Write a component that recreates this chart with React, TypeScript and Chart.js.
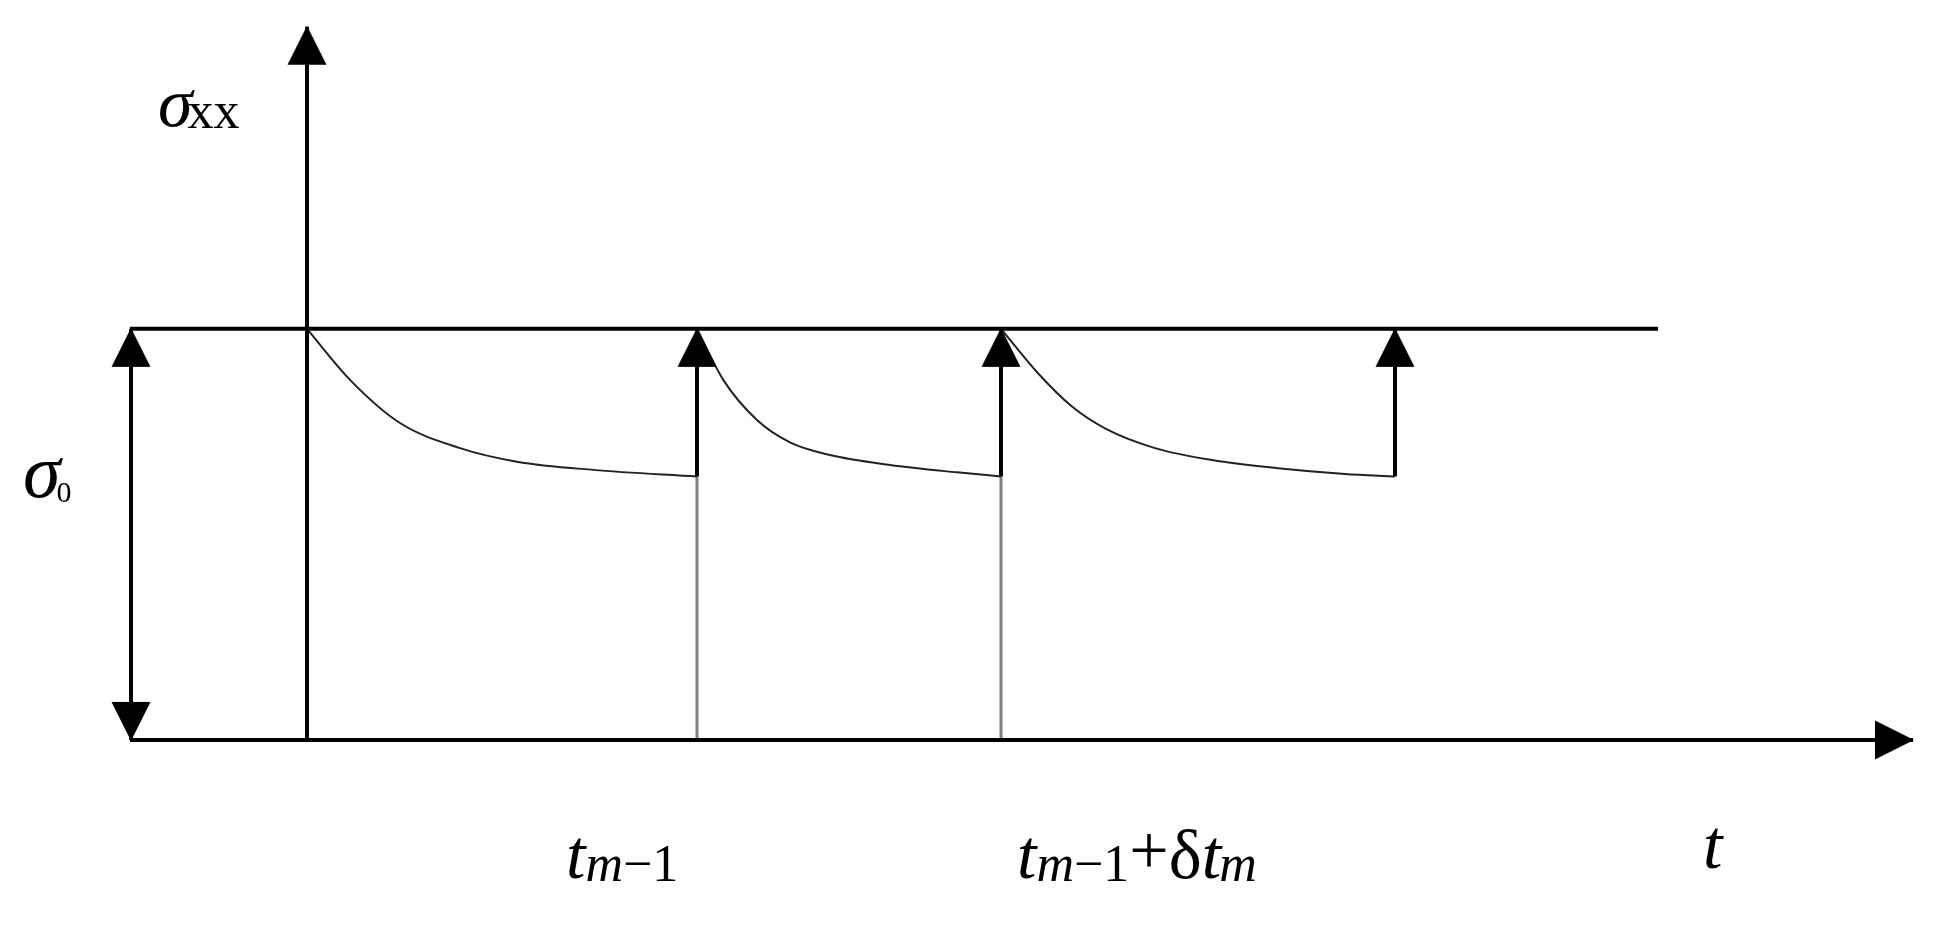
import React, { useEffect, useRef } from 'react';
import { Chart, registerables } from 'chart.js';

Chart.register(...registerables);

// ---- data (t in arbitrary time units, stress in units of sigma0) ----
const loadTimes = [0, 3.9, 6.94, 10.88];
const sigma0 = 1;
const relaxedLevel = 0.641;

const curve1T = [0, 0.43, 0.93, 1.53, 2.1, 2.86, 3.9];
const curve1S = [1.0, 0.876, 0.771, 0.71, 0.677, 0.657, 0.641];
const curve2T = [3.9, 4.163, 4.497, 4.83, 5.23, 5.83, 6.5, 6.94];
const curve2S = [1.0, 0.876, 0.779, 0.724, 0.693, 0.669, 0.651, 0.641];
const curve3T = [6.94, 7.31, 7.65, 7.98, 8.48, 9.05, 9.71, 10.38, 10.88];
const curve3S = [1.0, 0.892, 0.811, 0.758, 0.71, 0.681, 0.661, 0.647, 0.641];

const axisLeft = -1.77;
const tAxisEnd = 16.06;
const sigmaLineEnd = 13.51;
const sigmaAxisTop = 1.735;
const sigma0ArrowT = -1.76;

const xRange = [-3.07, 16.37];
const yRange = [-0.455, 1.8];

// ---- text labels ----
const SERIF = '"Liberation Serif", "DejaVu Serif", serif';
const labelSpecs = [
  { x: -1.49, y: 1.494, parts: [
    { text: 'σ', font: `italic 70px ${SERIF}` },
    { text: 'xx', font: `52px ${SERIF}`, dy: 2, dx: -5 },
  ] },
  { x: -2.84, y: 0.591, parts: [
    { text: 'σ', font: `italic 76px ${SERIF}` },
    { text: '0', font: `30px ${SERIF}`, dy: 5, dx: -4 },
  ] },
  { x: 2.59, y: -0.336, parts: [
    { text: 't', font: `italic 70px ${SERIF}` },
    { text: 'm', font: `italic 52px ${SERIF}`, dy: 3 },
    { text: '−1', font: `52px ${SERIF}`, dy: 3 },
  ] },
  { x: 7.1, y: -0.336, parts: [
    { text: 't', font: `italic 70px ${SERIF}` },
    { text: 'm', font: `italic 52px ${SERIF}`, dy: 3 },
    { text: '−1', font: `52px ${SERIF}`, dy: 3 },
    { text: '+', font: `70px ${SERIF}`, dy: -4 },
    { text: 'δ', font: `70px ${SERIF}` },
    { text: 't', font: `italic 70px ${SERIF}` },
    { text: 'm', font: `italic 52px ${SERIF}`, dy: 3, dx: -2 },
  ] },
  { x: 13.96, y: -0.311, parts: [
    { text: 't', font: `italic 70px ${SERIF}` },
  ] },
];

const richLabels = {
  id: 'richLabels',
  afterDatasetsDraw(chart: any) {
    const { ctx } = chart;
    const xs = chart.scales.x;
    const ys = chart.scales.y;
    ctx.save();
    ctx.fillStyle = '#000';
    ctx.textAlign = 'left';
    ctx.textBaseline = 'alphabetic';
    for (const lab of labelSpecs) {
      let px = xs.getPixelForValue(lab.x);
      const py = ys.getPixelForValue(lab.y);
      for (const p of lab.parts as any[]) {
        ctx.font = p.font;
        const dx = p.dx || 0;
        ctx.fillText(p.text, px + dx, py + (p.dy || 0));
        px += dx + ctx.measureText(p.text).width;
      }
    }
    ctx.restore();
  },
};

function makeArrowHead() {
  const c = document.createElement('canvas');
  c.width = 40;
  c.height = 80;
  const g = c.getContext('2d')!;
  g.fillStyle = '#000';
  g.beginPath();
  g.moveTo(20, 39);
  g.lineTo(39.5, 78);
  g.lineTo(0.5, 78);
  g.closePath();
  g.fill();
  return c;
}

const pts = (xs: number[], ys: number[]) => xs.map((x, i) => ({ x, y: ys[i] }));

export default function App() {
  const ref = useRef<HTMLCanvasElement | null>(null);

  useEffect(() => {
    document.body.style.margin = '0';
    const canvas = ref.current!;
    const arrow = makeArrowHead();

    const line = (data: any[], color: string, width: number) => ({
      type: 'scatter' as const,
      data,
      showLine: true,
      borderColor: color,
      backgroundColor: color,
      borderWidth: width,
      pointRadius: 0,
      borderCapStyle: 'butt',
      clip: false,
    });

    const curve = (data: any[]) => ({
      ...line(data, '#222', 2),
      cubicInterpolationMode: 'monotone',
    });

    const datasets: any[] = [
      // axes
      line([{ x: 0, y: 0 }, { x: 0, y: sigmaAxisTop }], '#000', 4),
      line([{ x: axisLeft, y: 0 }, { x: tAxisEnd, y: 0 }], '#000', 4),
      // sigma0 level
      line([{ x: axisLeft, y: sigma0 }, { x: sigmaLineEnd, y: sigma0 }], '#000', 4),
      // sigma0 dimension arrow
      line([{ x: sigma0ArrowT, y: 0 }, { x: sigma0ArrowT, y: sigma0 }], '#000', 4),
      // relaxation curves
      curve(pts(curve1T, curve1S)),
      curve(pts(curve2T, curve2S)),
      curve(pts(curve3T, curve3S)),
      // reload arrows
      ...loadTimes.slice(1).map((t) =>
        line([{ x: t, y: relaxedLevel }, { x: t, y: sigma0 }], '#000', 4)
      ),
      // grey drop lines
      ...loadTimes.slice(1, 3).map((t) =>
        line([{ x: t, y: 0 }, { x: t, y: relaxedLevel }], '#808080', 3)
      ),
      // arrow heads
      {
        type: 'scatter',
        data: [
          { x: 0, y: sigmaAxisTop },
          { x: sigma0ArrowT, y: sigma0 },
          { x: sigma0ArrowT, y: 0 },
          { x: tAxisEnd, y: 0 },
          ...loadTimes.slice(1).map((t) => ({ x: t, y: sigma0 })),
        ],
        pointStyle: arrow,
        pointRadius: 20,
        rotation: [0, 0, 180, 90, 0, 0, 0],
        showLine: false,
        clip: false,
        order: -1,
      },
    ];

    const chart = new Chart(canvas, {
      type: 'scatter',
      data: { datasets },
      options: {
        animation: false,
        responsive: false,
        events: [],
        layout: { padding: 0, autoPadding: false },
        plugins: { legend: { display: false }, tooltip: { enabled: false } },
        scales: {
          x: { type: 'linear', min: xRange[0], max: xRange[1], display: false },
          y: { type: 'linear', min: yRange[0], max: yRange[1], display: false },
        },
      },
      plugins: [richLabels],
    } as any);

    return () => chart.destroy();
  }, []);

  return (
    <div style={{ width: 1944, height: 927, background: '#fff' }}>
      <canvas ref={ref} width={1944} height={927} style={{ display: 'block' }} />
    </div>
  );
}
